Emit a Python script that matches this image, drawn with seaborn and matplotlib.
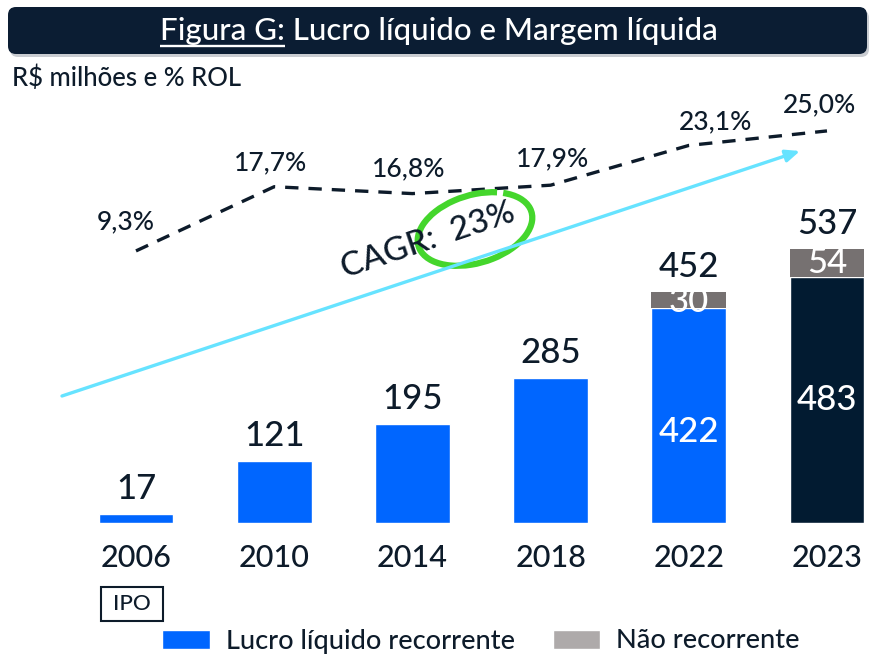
import matplotlib
matplotlib.use("Agg")
import matplotlib.pyplot as plt
import seaborn as sns
import pandas as pd
from matplotlib.patches import FancyBboxPatch, Rectangle, Arc, Patch

# ---------------- data ----------------
years = ["2006", "2010", "2014", "2018", "2022", "2023"]
recorrente = [17, 121, 195, 285, 422, 483]
nao_recorrente = [0, 0, 0, 0, 30, 54]
totais = [17, 121, 195, 285, 452, 537]
margem = [9.3, 17.7, 16.8, 17.9, 23.1, 25.0]
margem_labels = ["9,3%", "17,7%", "16,8%", "17,9%", "23,1%", "25,0%"]

BLUE = "#0066FF"
NAVY = "#021B31"
GREY = "#767171"
GREY_LEG = "#AEAAAA"
TXT = "#0D1B2A"
CYAN = "#66E3FF"
GREEN = "#44D62C"

sns.set_theme(style="white")
plt.rcParams["font.family"] = ["Lato", "DejaVu Sans"]
plt.rcParams["font.weight"] = "medium"

W, H = 873, 657
fig = plt.figure(figsize=(W / 100, H / 100), dpi=100)

def px_axes(l, t, r, b):
    return [l / W, 1 - b / H, (r - l) / W, (b - t) / H]

ax = fig.add_axes(px_axes(60, 95, 873, 523))
df = pd.DataFrame({"ano": years, "rec": recorrente})
bar_colors = [BLUE] * 5 + [NAVY]
sns.barplot(data=df, x="ano", y="rec", hue="ano", palette=bar_colors,
            legend=False, width=0.54, ax=ax, saturation=1)
ax.bar(range(len(years)), nao_recorrente, bottom=recorrente, width=0.54,
       color=GREY, edgecolor="none")
ax.set_xlim(-0.55, 5.333)
ax.set_ylim(0, 839)
ax.set_xlabel("")
ax.set_ylabel("")
ax.set_yticks([])
ax.set_xticks(range(len(years)))
ax.set_xticklabels(years, fontsize=22, color=TXT)
ax.tick_params(axis="x", length=0, pad=15)
for s in ax.spines.values():
    s.set_visible(False)
ax.patch.set_alpha(0)

# totals above bars
for i, t in enumerate(totais):
    ax.annotate(str(t), (i, t), xytext=(0, 9), textcoords="offset pixels",
                ha="center", va="bottom", fontsize=25, color=TXT)
# inner labels
for i in (4, 5):
    ax.text(i, recorrente[i] / 2 - (33 if i == 4 else 0), str(recorrente[i]),
            ha="center", va="center", fontsize=25, color="white")
    ax.text(i, recorrente[i] + nao_recorrente[i] / 2 - (3 if i == 4 else 0),
            str(nao_recorrente[i]), ha="center", va="center", fontsize=25,
            color="white")

# margin line
ax2 = ax.twinx()
sns.lineplot(x=list(range(len(years))), y=margem, ax=ax2, color=TXT,
             linewidth=2.4, linestyle=(0, (4, 3)))
ax2.set_ylim(-26.3, 29.7)
ax2.set_xlim(-0.55, 5.333)
ax2.set_yticks([])
for s in ax2.spines.values():
    s.set_visible(False)
offs = [(-10, 29), (-4, 24), (-4, 25), (2, 26), (27, 24), (-7, 26)]
for i, (m, lab) in enumerate(zip(margem, margem_labels)):
    ax2.annotate(lab, (i, m), xytext=offs[i], textcoords="offset pixels",
                 ha="center", va="center", fontsize=19, color=TXT)

# overlay for decorations (pixel coordinates)
ov = fig.add_axes([0, 0, 1, 1])
ov.set_xlim(0, W)
ov.set_ylim(H, 0)
ov.axis("off")
ov.patch.set_alpha(0)

# title banner
ov.add_patch(FancyBboxPatch((10, 10), 859, 47, boxstyle="round,pad=0,rounding_size=8",
                            facecolor="#C9CCD1", edgecolor="none", zorder=1))
ov.add_patch(FancyBboxPatch((8, 7), 859, 47, boxstyle="round,pad=0,rounding_size=8",
                            facecolor="#0B1D33", edgecolor="none", zorder=2))
title = ov.text(439, 31, "Figura G: Lucro líquido e Margem líquida", ha="center",
                va="center", fontsize=22.5, color="white", zorder=3)
fig.canvas.draw()
r = fig.canvas.get_renderer()
bb = title.get_window_extent(r)
tmp = ov.text(0, 0, "Figura G:", fontsize=22.5)
wpart = tmp.get_window_extent(r).width
tmp.remove()
x0 = bb.x0
ov.plot([x0, x0 + wpart], [46, 46], color="white", lw=1.7, zorder=3,
        solid_capstyle="butt")

ov.text(12, 78, "R$ milhões e % ROL", ha="left", va="center", fontsize=18.5, color=TXT)

# CAGR arrow
ov.annotate("", xy=(800, 151), xytext=(62, 396),
            arrowprops=dict(arrowstyle="-|>,head_length=0.7,head_width=0.3",
                            color=CYAN, lw=2.4, shrinkA=0, shrinkB=0))
ov.text(428, 241, "CAGR:  23%", rotation=18.5, rotation_mode="anchor",
        ha="center", va="center", fontsize=24, color=TXT)
ov.add_patch(Arc((475, 229), 118, 68, angle=-17, theta1=325, theta2=678,
                 color=GREEN, lw=4.5))

# IPO box
ov.add_patch(Rectangle((101, 587), 62, 34, fill=False, edgecolor=TXT, lw=1.5))
ov.text(132, 604, "IPO", ha="center", va="center", fontsize=16, color=TXT)

# legend
handles = [Patch(facecolor=BLUE, label="Lucro líquido recorrente"),
           Patch(facecolor=GREY_LEG, label="Não recorrente")]
fig.legend(handles=handles, loc="center", bbox_to_anchor=(481 / W, 1 - 641 / H),
           ncol=2, frameon=False, fontsize=19.5, handlelength=1.75,
           handleheight=0.7, handletextpad=0.6, columnspacing=1.4,
           labelcolor=TXT)

fig.savefig("out.png", dpi=100)
